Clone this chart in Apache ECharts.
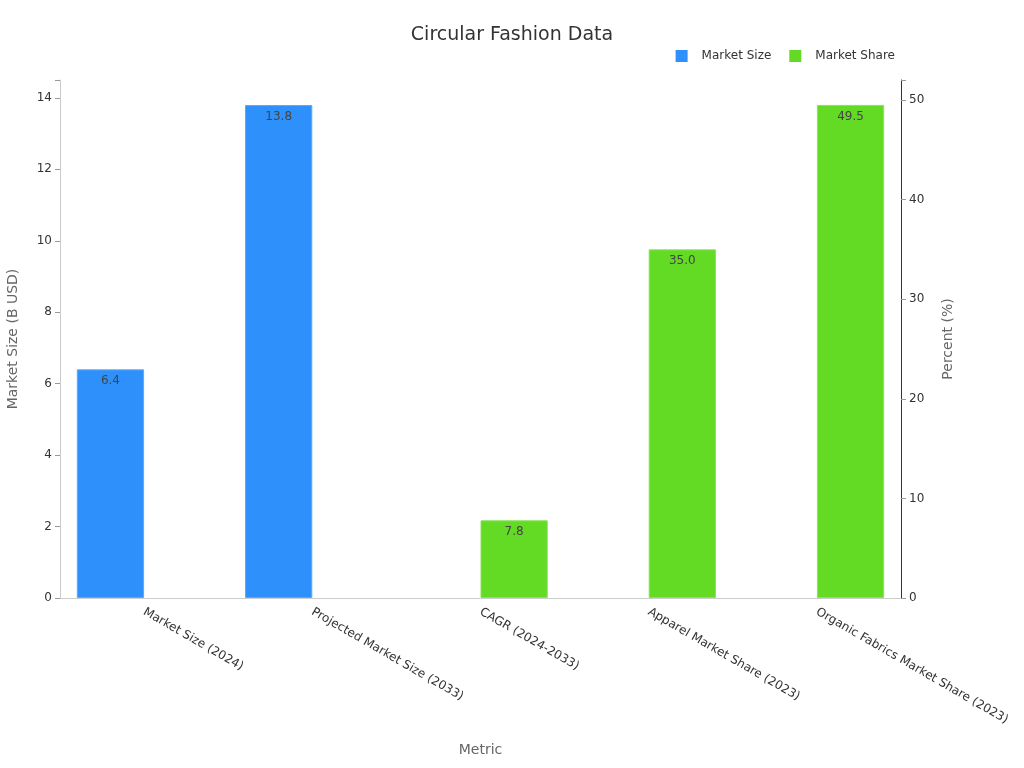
<!DOCTYPE html>
<html><head><meta charset="utf-8">
<script src="https://cdn.jsdelivr.net/npm/echarts@6/dist/echarts.min.js"></script>
<style>html,body{margin:0;padding:0;background:#fff}#c{width:1024px;height:768px}</style>
</head><body><div id="c"></div>
<script>
const categories = ["Market Size (2024)", "Projected Market Size (2033)", "CAGR (2024-2033)", "Apparel Market Share (2023)", "Organic Fabrics Market Share (2023)"];
const marketSize = [6.4, 13.8, null, null, null];
const marketShare = [null, null, 7.8, 35.0, 49.5];
const leftTicks = [0, 2, 4, 6, 8, 10, 12, 14];
const rightTicks = [0, 10, 20, 30, 40, 50];

const chart = echarts.init(document.getElementById('c'), null, {renderer: 'canvas'});
const font = 'DejaVu Sans';
chart.setOption({
  animation: false,
  textStyle: {fontFamily: font},
  title: {text: 'Circular Fashion Data', left: 'center', top: 21, textStyle: {fontFamily: font, fontSize: 19, fontWeight: 'normal', color: '#333'}},
  legend: {top: 45, right: 124, itemWidth: 12, itemHeight: 12, itemGap: 18, icon: 'rect',
    itemStyle: {borderWidth: 0},
    textStyle: {fontFamily: font, fontSize: 12, color: '#333', padding: [0, 0, 0, 9]},
    data: ['Market Size', 'Market Share']},
  grid: {left: 60, right: 123, top: 80, bottom: 170, outerBoundsMode: 'none', containLabel: false},
  xAxis: {type: 'category', data: categories, name: 'Metric', nameLocation: 'middle', nameGap: 145,
    nameTextStyle: {fontFamily: font, fontSize: 14, color: '#666'},
    axisLine: {lineStyle: {color: '#ccc'}},
    axisTick: {alignWithLabel: true, lineStyle: {color: '#999'}},
    axisLabel: {rotate: -30, fontFamily: font, fontSize: 12, color: '#333', interval: 0, margin: 13}},
  yAxis: [
    {type: 'value', min: 0, max: 14.5, interval: 2, name: 'Market Size (B USD)', nameLocation: 'middle', nameGap: 40,
      nameTextStyle: {fontFamily: font, fontSize: 14, color: '#666'},
      axisLine: {show: true, lineStyle: {color: '#ccc'}},
      axisTick: {show: true, lineStyle: {color: '#999'}},
      axisLabel: {fontFamily: font, fontSize: 12, color: '#333',
        formatter: v => leftTicks.includes(v) ? String(v) : ''},
      splitLine: {show: false}},
    {type: 'value', min: 0, max: 52, interval: 10, name: 'Percent (%)', nameLocation: 'middle', nameGap: 40,
      nameTextStyle: {fontFamily: font, fontSize: 14, color: '#666'},
      axisLine: {show: true, lineStyle: {color: '#333'}},
      axisTick: {show: true, lineStyle: {color: '#999'}},
      axisLabel: {fontFamily: font, fontSize: 12, color: '#333',
        formatter: v => rightTicks.includes(v) ? String(v) : ''},
      splitLine: {show: false}}
  ],
  series: [
    {name: 'Market Size', type: 'bar', yAxisIndex: 0, data: marketSize, barWidth: '40%', barGap: '0%',
      itemStyle: {color: '#2E90FA', borderColor: '#5aa8fb', borderWidth: 1},
      label: {show: true, position: 'insideTop', distance: 6, color: '#444', fontFamily: font, fontSize: 12, formatter: p => p.value.toFixed(1)}},
    {name: 'Market Share', type: 'bar', yAxisIndex: 1, data: marketShare, barWidth: '40%', barGap: '0%',
      itemStyle: {color: '#63DA24', borderColor: '#8ae35c', borderWidth: 1},
      label: {show: true, position: 'insideTop', distance: 6, color: '#444', fontFamily: font, fontSize: 12, formatter: p => p.value.toFixed(1)}}
  ]
});
</script></body></html>
